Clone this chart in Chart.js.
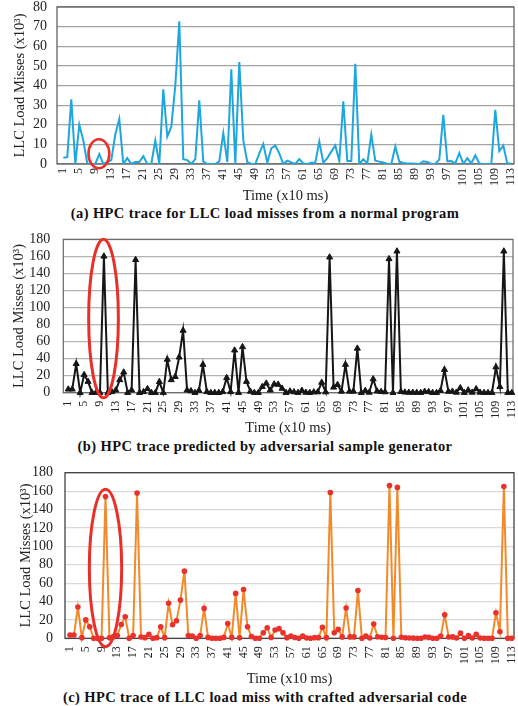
<!DOCTYPE html>
<html>
<head>
<meta charset="utf-8">
<script src="https://cdn.jsdelivr.net/npm/chart.js@4.4.1/dist/chart.umd.min.js"></script>
<style>
    body { margin: 0; background: #fff; width: 518px; height: 706px; position: relative; overflow: hidden; font-family: 'Liberation Serif', 'Times New Roman', serif; }
    canvas { position: absolute; left: 0; }
    .cap { position: absolute; left: 0; width: 530px; text-align: center; font-weight: bold; font-size: 14.5px; color: #111; line-height: 16px; letter-spacing: 0.4px; }
</style>
</head>
<body>
<canvas id="chartA" width="518" height="205" style="top:0px"></canvas>
<div class="cap" style="top:205px">(a) HPC trace for LLC load misses from a normal program</div>
<canvas id="chartB" width="518" height="207" style="top:230px"></canvas>
<div class="cap" style="top:438px">(b) HPC trace predicted by adversarial sample generator</div>
<canvas id="chartC" width="518" height="228" style="top:460px"></canvas>
<div class="cap" style="top:689px">(c) HPC trace of LLC load miss with crafted adversarial code</div>
<script>
var xTickLabels = [1, 5, 9, 13, 17, 21, 25, 29, 33, 37, 41, 45, 49, 53, 57, 61, 65, 69, 73, 77, 81, 85, 89, 93, 97, 101, 105, 109, 113];

// LLC load misses (x10^3), one value per 10 ms slot
var normalTrace = [
    3.2, 3.5, 33, 0, 20, 12, 0.3, 0, 0, 5,
    0, 1, 2, 15, 23, 0, 3, 0, 1, 1,
    4, 0, 0, 12, 0, 38, 14, 19, 40, 72.7,
    2.4, 2, 0, 2.5, 32.5, 1.2, 0, 0, 0, 1.4,
    15.7, 1, 48.3, 0, 52, 12, 1, 0, 0, 5.4,
    10.2, 0.7, 8, 9.4, 5.4, 0, 1.7, 0.8, 0, 2.5,
    0.3, 0, 0.7, 0.7, 11.4, 0.7, 3, 6.3, 9.4, 1.5,
    32, 1.5, 1.5, 51, 0, 2.4, 0.3, 15, 1.7, 1.2,
    0.8, 0, 0, 8.9, 1.2, 0.5, 0.3, 0.2, 0.1, 0,
    1.4, 1, 0, 0, 2.4, 25, 1.4, 1.5, 0.3, 5.6,
    0, 3, 0.3, 4.4, 0.3, 0, 0, 0, 27.6, 6.6,
    9.4, 0.3, 0.3
];

var predictedTrace = [
    4, 4, 34, 0, 21, 13, 0, 0, 0, 160,
    0, 1, 3, 15, 24, 0, 3, 156, 0, 1,
    4.5, 0, 0, 12.8, 0, 39, 15, 18.7, 41.6, 73,
    3, 2, 0, 2.5, 33, 1, 0, 0, 0, 1,
    17.5, 1, 49.8, 0, 53.7, 13, 1.5, 0, 0, 7,
    11, 3, 10, 9.7, 5, 0, 1.7, 0.8, 0, 2.5,
    0.3, 0, 0.7, 0.7, 12, 0.7, 159, 6.3, 9.4, 1.5,
    33, 1.5, 1.5, 52, 0, 2.4, 0.3, 16, 1.7, 1.2,
    0.8, 157, 0, 166, 1.2, 0.5, 0.3, 0.2, 0.1, 0,
    1.4, 1, 0, 0, 2.4, 27, 1.4, 1.5, 0.3, 5.6,
    0, 3, 0.3, 4.4, 0.3, 0, 0, 0, 30, 7,
    166, 0, 0
];

var craftedTrace = [
    3.6, 3.6, 34, 0.7, 20, 12.6, 0, 0, 0, 154,
    0.5, 1.8, 3, 15, 23.5, 0, 3, 158, 1.4, 0.7,
    4.3, 0, 0.7, 12.6, 0.7, 38, 14.8, 19, 41.5, 73,
    3, 2.5, 0, 3, 32.5, 1, 0, 0, 0, 1,
    16, 1, 48.8, 0.5, 53, 12.6, 2, 0, 0, 6,
    11.5, 1, 9, 10.5, 6, 0.7, 2.5, 0.8, 0, 2.5,
    0.3, 0, 0.7, 0.7, 12, 0.7, 158.5, 6, 9.7, 1.5,
    33, 1.5, 1.5, 52, 0, 2.4, 0.3, 15.5, 1.7, 1.2,
    0.8, 166, 0, 164, 1.2, 0.5, 0.3, 0.2, 0.1, 0,
    1.4, 1, 0, 0, 2.4, 25.6, 1.4, 1.5, 0.3, 5.6,
    0, 3, 0.3, 4.4, 0.3, 0, 0, 0, 27.8, 7.2,
    165, 0, 0
];

// red rings around the injected slot, in data units (centre x/y, half width/height)
var ringA = { x: 9.9, y: 5.2, rx: 2.6, ry: 7.4 };
var ringB = { x: 9.9, y: 87, rx: 3.75, ry: 93 };
var ringC = { x: 10, y: 76.4, rx: 4.1, ry: 85.5 };

var serif = "'Liberation Serif', 'Times New Roman', serif";
Chart.defaults.font.family = serif;

var framePlugin = {
    id: 'frame',
    beforeDatasetsDraw: function(chart, args, opts) {
        var a = chart.chartArea;
        var ctx = chart.ctx;
        ctx.save();
        ctx.strokeStyle = opts.color || '#555';
        ctx.lineWidth = 1.2;
        ctx.strokeRect(a.left, a.top, a.right - a.left, a.bottom - a.top);
        ctx.restore();
    }
};

var ringPlugin = {
    id: 'ring',
    afterDraw: function(chart, args, opts) {
        if (!opts.spot) return;
        var xs = chart.scales.x, ys = chart.scales.y, s = opts.spot;
        var cx = xs.getPixelForValue(s.x);
        var cy = ys.getPixelForValue(s.y);
        var rx = Math.abs(xs.getPixelForValue(s.x + s.rx) - cx);
        var ry = Math.abs(ys.getPixelForValue(s.y + s.ry) - cy);
        var ctx = chart.ctx;
        ctx.save();
        ctx.strokeStyle = '#e8302a';
        ctx.lineWidth = opts.width || 3;
        ctx.beginPath();
        ctx.ellipse(cx, cy, rx, ry, 0, 0, Math.PI * 2);
        ctx.stroke();
        ctx.restore();
    }
};

function toPoints(values) {
    return values.map(function(v, k) { return { x: k + 1, y: v }; });
}

function makeChart(id, cfg) {
    return new Chart(document.getElementById(id), {
        type: 'line',
        data: { datasets: [cfg.dataset] },
        options: {
            responsive: false,
            animation: false,
            devicePixelRatio: 1,
            layout: { padding: cfg.pad },
            plugins: {
                legend: { display: false },
                tooltip: { enabled: false },
                frame: { color: cfg.frameColor },
                ring: { spot: cfg.ring, width: cfg.ringWidth }
            },
            scales: {
                x: {
                    type: 'linear',
                    min: cfg.xMin,
                    max: cfg.xMax,
                    afterBuildTicks: function(s) {
                        s.ticks = xTickLabels.map(function(v) { return { value: v }; });
                    },
                    ticks: {
                        autoSkip: false,
                        minRotation: 90,
                        maxRotation: 90,
                        padding: cfg.xTickPad,
                        color: '#222',
                        font: { size: 12 },
                        callback: function(v) { return String(v); }
                    },
                    grid: { display: false, drawTicks: false },
                    border: { display: false },
                    title: { display: true, text: 'Time (x10 ms)', color: '#222', padding: 0, font: { size: 14.5 } },
                    afterFit: function(s) { s.height = cfg.xHeight; s.paddingLeft = 0; s.paddingRight = 0; }
                },
                y: {
                    min: 0,
                    max: cfg.yMax,
                    ticks: { autoSkip: false, stepSize: cfg.yStep, padding: cfg.yTickPad, color: '#222', font: { size: 14 } },
                    grid: { color: cfg.gridColor, lineWidth: 1.2, drawTicks: false },
                    border: { display: false },
                    title: { display: true, text: 'LLC Load Misses (x10³)', color: '#222', padding: 0, font: { size: 14.5 } },
                    afterFit: function(s) { s.width = cfg.yWidth; s.paddingTop = 0; s.paddingBottom = 0; }
                }
            }
        },
        plugins: [framePlugin, ringPlugin]
    });
}

makeChart('chartA', {
    dataset: {
        data: toPoints(normalTrace),
        borderColor: '#1ea6df',
        borderWidth: 2,
        pointRadius: 0,
        tension: 0
    },
    pad: { left: 11, right: 4, top: 7, bottom: 0 },
    yWidth: 46, xHeight: 41,
    xMin: -0.575, xMax: 113.675,
    yMax: 80, yStep: 10,
    xTickPad: 4, yTickPad: 10,
    gridColor: '#a3a3a3', frameColor: '#555',
    ring: ringA, ringWidth: 2.6
});

makeChart('chartB', {
    dataset: {
        data: toPoints(predictedTrace),
        borderColor: '#161616',
        borderWidth: 2,
        pointStyle: 'triangle',
        pointRadius: 3.5,
        pointBackgroundColor: '#161616',
        pointBorderColor: '#161616',
        pointBorderWidth: 1,
        tension: 0,
        clip: false
    },
    pad: { left: 10.3, right: 2.7, top: 9.3, bottom: 0 },
    yWidth: 53, xHeight: 44.3,
    xMin: -0.256, xMax: 113.31,
    yMax: 180, yStep: 20,
    xTickPad: 8, yTickPad: 13,
    gridColor: '#b3b3b3', frameColor: '#666',
    ring: ringB, ringWidth: 3
});

makeChart('chartC', {
    dataset: {
        data: toPoints(craftedTrace),
        borderColor: '#f28a2c',
        borderWidth: 2,
        pointStyle: 'circle',
        pointRadius: 2.8,
        pointBackgroundColor: '#e8322b',
        pointBorderColor: '#e8322b',
        pointBorderWidth: 0,
        tension: 0,
        clip: false
    },
    pad: { left: 17, right: 4, top: 12.7, bottom: 0 },
    yWidth: 48, xHeight: 49.7,
    xMin: -0.268, xMax: 113.57,
    yMax: 180, yStep: 20,
    xTickPad: 8, yTickPad: 12,
    gridColor: '#d9d9d9', frameColor: '#333',
    ring: ringC, ringWidth: 3
});
</script>
</body>
</html>
